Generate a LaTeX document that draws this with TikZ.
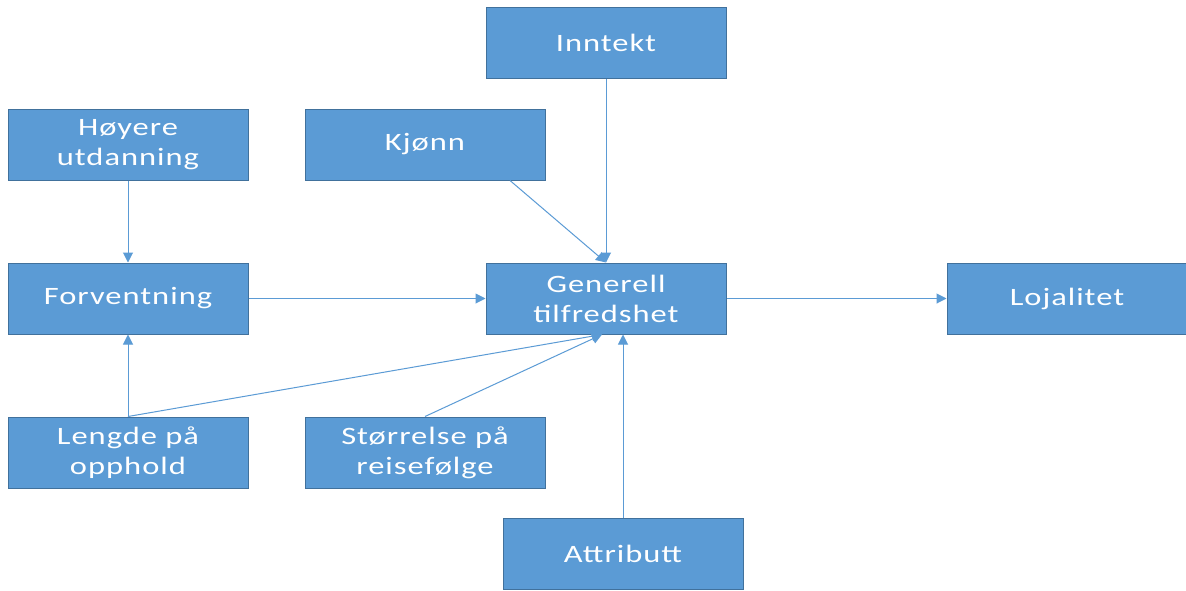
\documentclass[tikz,border=0pt]{standalone}
\usepackage{fontspec}
\setmainfont{Carlito}[FakeStretch=1.3,LetterSpace=4]
\usetikzlibrary{arrows.meta}
\definecolor{boxfill}{HTML}{5B9BD5}
\definecolor{boxedge}{HTML}{41719C}
\definecolor{linec}{HTML}{5B9BD5}
\begin{document}
\begin{tikzpicture}[x=1pt,y=-1pt,
  box/.style={draw=boxedge,fill=boxfill,line width=1pt,minimum width=240pt,minimum height=71pt,
    text=white,align=center,inner sep=0pt,font=\fontsize{25}{30}\selectfont},
  conn/.style={draw=linec,line width=1pt,-{Triangle[length=10pt,width=10pt]}}]
\useasboundingbox[fill=white] (0,0) rectangle (1186,590);
\node[box] (inn) at (606,43) {Inntekt};
\node[box] (hoy) at (128,144.5) {Høyere\\utdanning};
\node[box] (kjo) at (425,144.5) {Kjønn};
\node[box] (for) at (128,298.5) {Forventning};
\node[box] (gen) at (606,298.5) {Generell\\tilfredshet};
\node[box] (loj) at (1067,298.5) {Lojalitet};
\node[box] (len) at (128,452.5) {Lengde på\\opphold};
\node[box] (sto) at (425,452.5) {Størrelse på\\reisefølge};
\node[box] (att) at (623,553.5) {Attributt};
\coordinate (kjs) at ([xshift=85pt]kjo.south);
\coordinate (gsl) at ([xshift=-4pt]gen.south);
\coordinate (gsr) at ([xshift=17pt]gen.south);
\draw[conn] (inn.south) -- (gen.north);
\draw[conn] (kjs) -- (gen.north);
\draw[conn] (hoy.south) -- (for.north);
\draw[conn] (for.east) -- (gen.west);
\draw[conn] (gen.east) -- (loj.west);
\draw[conn] (len.north) -- (for.south);
\draw[conn] (len.north) -- (gsl);
\draw[conn] (sto.north) -- (gsl);
\draw[conn] (att.north) -- (gsr);
\end{tikzpicture}
\end{document}
